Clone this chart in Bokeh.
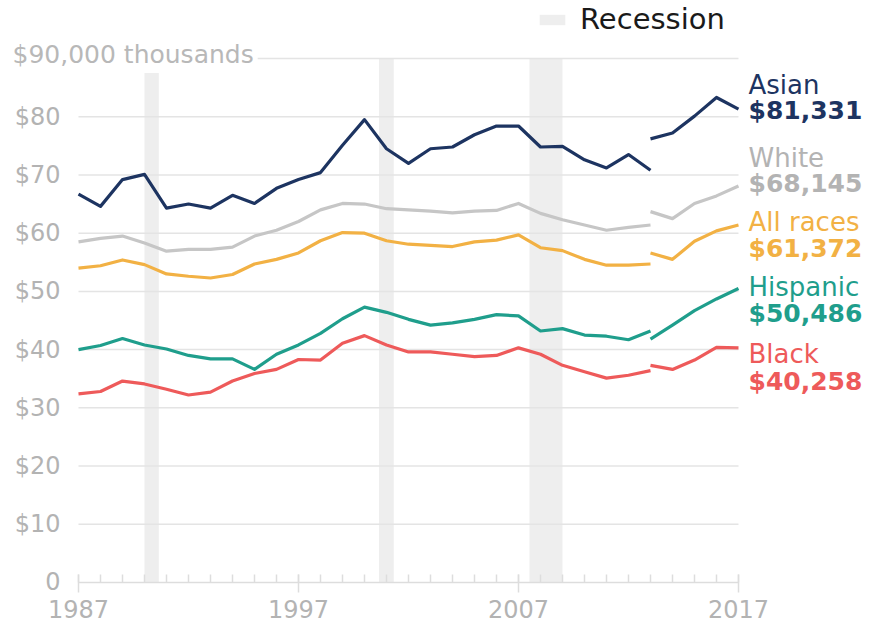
from bokeh.plotting import figure
from bokeh.models import Range1d, FixedTicker, Label, Legend, LegendItem
from bokeh.core.properties import value
from bokeh.embed import file_html
from bokeh.resources import INLINE

# ---- data (thousands of dollars) ----
years_a = list(range(1987, 2014))
years_b = list(range(2013, 2018))

asian_a = [66.7, 64.6, 69.2, 70.1, 64.3, 65.0, 64.3, 66.5, 65.1, 67.7, 69.2, 70.4, 75.1, 79.5,
           74.5, 72.0, 74.5, 74.8, 76.9, 78.4, 78.4, 74.8, 74.9, 72.6, 71.2, 73.5, 70.8]
asian_b = [76.2, 77.2, 80.1, 83.3, 81.3]

white_a = [58.5, 59.1, 59.5, 58.3, 56.9, 57.2, 57.2, 57.6, 59.5, 60.5, 62.0, 64.0, 65.1, 65.0,
           64.2, 64.0, 63.8, 63.5, 63.8, 63.9, 65.1, 63.4, 62.3, 61.4, 60.5, 61.0, 61.4]
white_b = [63.7, 62.5, 65.1, 66.4, 68.1]

all_a = [54.0, 54.4, 55.4, 54.6, 53.0, 52.6, 52.3, 52.9, 54.7, 55.5, 56.6, 58.7, 60.1, 60.0,
         58.7, 58.1, 57.9, 57.7, 58.5, 58.8, 59.7, 57.5, 57.0, 55.5, 54.5, 54.5, 54.7]
all_b = [56.6, 55.5, 58.6, 60.4, 61.4]

hisp_a = [40.0, 40.7, 41.9, 40.8, 40.1, 39.0, 38.4, 38.4, 36.6, 39.2, 40.8, 42.8, 45.3, 47.3,
          46.4, 45.2, 44.2, 44.6, 45.2, 46.0, 45.8, 43.2, 43.6, 42.5, 42.3, 41.7, 43.2]
hisp_b = [41.8, 44.2, 46.7, 48.7, 50.5]

black_a = [32.4, 32.8, 34.6, 34.1, 33.2, 32.2, 32.7, 34.6, 35.9, 36.6, 38.3, 38.2, 41.1, 42.4,
           40.8, 39.6, 39.6, 39.2, 38.8, 39.0, 40.3, 39.2, 37.3, 36.2, 35.1, 35.6, 36.4]
black_b = [37.3, 36.6, 38.2, 40.4, 40.3]

series_names = ["Asian", "White", "All races", "Hispanic", "Black"]
series_last = ["$81,331", "$68,145", "$61,372", "$50,486", "$40,258"]
series_colors = ["#1d3461", "#c6c6c6", "#f2b144", "#1f9e8c", "#ee5a5a"]
label_colors = ["#1d3461", "#b3b3b3", "#f2b144", "#1f9e8c", "#ee5a5a"]

recession_start = [1990.0, 2000.66, 2007.5]
recession_end = [1990.65, 2001.33, 2009.0]

x_ticks = [1987, 1997, 2007, 2017]
x_minor = list(range(1987, 2018))
y_ticks = [0, 10, 20, 30, 40, 50, 60, 70, 80]
y_tick_labels = {0: "0", 10: "$10", 20: "$20", 30: "$30", 40: "$40", 50: "$50",
                 60: "$60", 70: "$70", 80: "$80"}
grid_values = [10, 20, 30, 40, 50, 60, 70, 80, 90]
top_label = "$90,000 thousands"

FONT = "DejaVu Sans"
GRID = "#e4e4e4"
TICK_TXT = "#b3b3b3"

# frame covers the whole canvas; axes sit at fixed locations inside it
p = figure(width=865, height=623, output_backend="svg", toolbar_location=None,
           x_range=Range1d(1983.4545, 2022.773), y_range=Range1d(-7.042, 99.96),
           min_border=0)
p.outline_line_color = None
p.xgrid.grid_line_color = None
p.ygrid.grid_line_color = None

# recession bands
bands = p.quad(left=recession_start, right=recession_end, bottom=0, top=90,
               fill_color="#eeeeee", line_color=None)

# horizontal grid lines (limited to the data span)
p.segment(x0=[x_ticks[0]] * len(grid_values), x1=[x_ticks[-1]] * len(grid_values),
          y0=grid_values, y1=grid_values, line_color=GRID, line_width=1.5)

# x axis
xa = p.xaxis[0]
xa.fixed_location = 0
xa.bounds = (x_ticks[0], x_ticks[-1])
xa.ticker = FixedTicker(ticks=x_ticks, minor_ticks=x_minor)
xa.axis_line_color = "#dddddd"
xa.axis_line_width = 1.5
xa.major_tick_line_color = "#dddddd"
xa.major_tick_line_width = 1.5
xa.major_tick_in = 8
xa.major_tick_out = 10
xa.minor_tick_line_color = "#dddddd"
xa.minor_tick_line_width = 1.5
xa.minor_tick_in = 8
xa.minor_tick_out = 0
xa.major_label_text_font = FONT
xa.major_label_text_font_size = "24px"
xa.major_label_text_color = TICK_TXT
xa.major_label_standoff = 8

# y axis
ya = p.yaxis[0]
ya.fixed_location = x_ticks[0]
ya.ticker = FixedTicker(ticks=y_ticks)
ya.major_label_overrides = y_tick_labels
ya.axis_line_color = None
ya.major_tick_line_color = None
ya.minor_tick_line_color = None
ya.major_tick_in = 0
ya.major_tick_out = 0
ya.major_label_text_font = FONT
ya.major_label_text_font_size = "24px"
ya.major_label_text_color = TICK_TXT
ya.major_label_standoff = 18

# lines
pairs = [(asian_a, asian_b), (white_a, white_b), (all_a, all_b), (hisp_a, hisp_b), (black_a, black_b)]
for (sa, sb), c in zip(pairs, series_colors):
    p.line(years_a, sa, line_color=c, line_width=3.2, line_join="round")
    p.line(years_b, sb, line_color=c, line_width=3.2, line_join="round")

# top y label
p.add_layout(Label(x=x_ticks[0], y=grid_values[-1], x_offset=-70, y_offset=4, text=top_label,
                   text_font=FONT, text_font_size="25px", text_color="#b8b8b8",
                   text_baseline="middle", background_fill_color="white", padding=4))

# end labels
name_y = [85.5, 72.9, 62.0, 50.8, 39.3]
val_y = [81.1, 68.5, 57.3, 46.2, 34.5]
end_x = [x_ticks[-1]] * len(series_names)
p.text(x=end_x, y=name_y, text=series_names, text_color=label_colors, x_offset=10,
       text_font=value(FONT), text_font_size="26px", text_baseline="middle")
p.text(x=end_x, y=val_y, text=series_last, text_color=label_colors, x_offset=10,
       text_font=value(FONT), text_font_size="25px", text_font_style="bold",
       text_baseline="middle")

# recession legend
legend = Legend(items=[LegendItem(label="Recession", renderers=[bands])],
                location=(536, 587), orientation="horizontal",
                glyph_width=32, glyph_height=13, label_standoff=12,
                padding=0, margin=0, spacing=0,
                label_text_font=FONT, label_text_font_size="29px", label_text_color="#1a1a1a",
                background_fill_alpha=0, border_line_color=None)
p.add_layout(legend)

open("out.html", "w").write(file_html(p, INLINE))
